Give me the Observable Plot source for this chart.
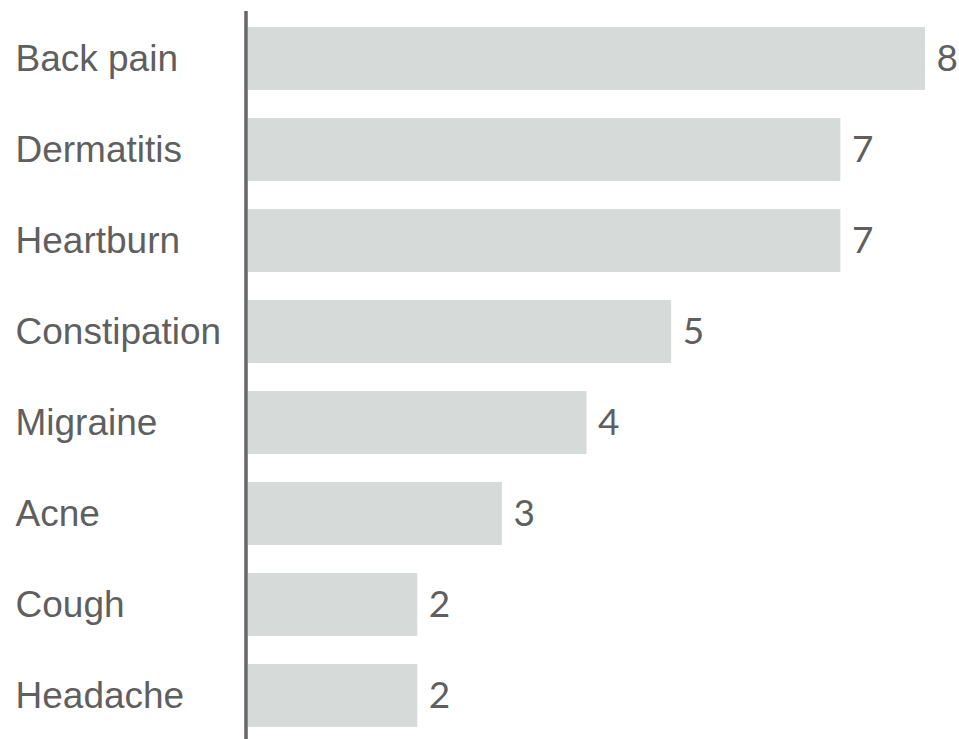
<!DOCTYPE html>
<html>
<head>
<meta charset="utf-8">
<script src="https://cdn.jsdelivr.net/npm/d3@7"></script>
<script src="https://cdn.jsdelivr.net/npm/@observablehq/plot@0.6"></script>
<style>
  html, body { margin: 0; padding: 0; background: #fff; }
  svg { display: block; }
</style>
</head>
<body>
<div id="chart"></div>
<script>
const conditions = ["Back pain", "Dermatitis", "Heartburn", "Constipation", "Migraine", "Acne", "Cough", "Headache"];
const counts = [8, 7, 7, 5, 4, 3, 2, 2];

const data = conditions.map((name, i) => ({name, count: counts[i]}));

const chart = Plot.plot({
  width: 959,
  height: 739,
  marginLeft: 248,
  marginRight: 34,
  marginTop: 11,
  marginBottom: 0,
  x: {domain: [0, 8], axis: null},
  y: {domain: conditions, axis: null, range: [27, 727], paddingInner: 0.3077, paddingOuter: 0},
  marks: [
    Plot.barX(data, {x: "count", y: "name", fill: "#d6dbda"}),
    Plot.ruleX([0], {stroke: "#666666", strokeWidth: 3.5, dx: -2.5}),
    Plot.text(data, {
      y: "name", text: "name", frameAnchor: "left", textAnchor: "start", dx: -233,
      fill: "#5f5f5f", fontSize: 37, fontFamily: "Liberation Sans, Arial, sans-serif"
    }),
    Plot.text(data, {
      x: "count", y: "name", text: d => String(d.count), textAnchor: "start", dx: 11,
      fill: "#5f5f5f", fontSize: 37, fontFamily: "Lato, sans-serif"
    })
  ]
});
document.getElementById("chart").appendChild(chart);
</script>
</body>
</html>
